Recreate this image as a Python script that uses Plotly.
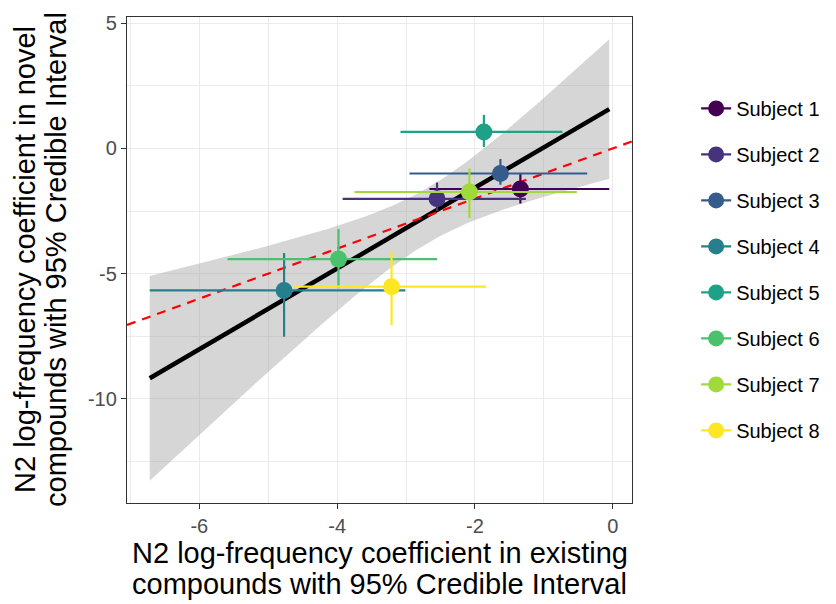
import numpy as np
import plotly.graph_objects as go

subjects = ["Subject 1", "Subject 2", "Subject 3", "Subject 4",
            "Subject 5", "Subject 6", "Subject 7", "Subject 8"]
colors = ["#440154", "#46337E", "#365C8D", "#277F8E",
          "#1FA187", "#4AC16D", "#9FDA3A", "#FDE725"]

est_existing = [-1.34, -2.55, -1.63, -4.77, -1.87, -3.98, -2.08, -3.21]
lo_existing = [-2.66, -3.92, -2.95, -6.72, -3.08, -5.59, -3.75, -4.64]
hi_existing = [-0.05, -1.26, -0.37, -3.01, -0.73, -2.55, -0.52, -1.84]

est_novel = [-1.62, -2.01, -1.00, -5.67, 0.66, -4.42, -1.74, -5.52]
lo_novel = [-2.20, -2.50, -1.45, -7.52, 0.06, -5.58, -2.78, -7.06]
hi_novel = [-1.00, -1.36, -0.42, -4.18, 1.34, -3.22, -0.80, -4.12]

x_ticks = [-6, -4, -2, 0]
x_ticklabels = ["-6", "-4", "-2", "0"]
y_ticks = [5, 0, -5, -10]
y_ticklabels = ["5", "0", "-5", "-10"]

x_title_lines = ["N2 log-frequency coefficient in existing",
                 "compounds with 95% Credible Interval"]
y_title_lines = ["N2 log-frequency coefficient in novel",
                 "compounds with 95% Credible Interval"]

# linear fit with 95% confidence band (as geom_smooth(method="lm"))
xs = np.array(est_existing)
ys = np.array(est_novel)
n = len(xs)
slope, intercept = np.polyfit(xs, ys, 1)
resid = ys - (intercept + slope * xs)
sigma = np.sqrt(np.sum(resid ** 2) / (n - 2))
sxx = np.sum((xs - xs.mean()) ** 2)
t_crit = 2.446912  # t(0.975, df=6)
xg = np.linspace(min(lo_existing), max(hi_existing), 100)
yg = intercept + slope * xg
se = sigma * np.sqrt(1.0 / n + (xg - xs.mean()) ** 2 / sxx)
upper = yg + t_crit * se
lower = yg - t_crit * se

x_range = [-7.05, 0.28]
y_range = [-14.16, 5.25]

FONT = "Liberation Sans, Arial"

fig = go.Figure()

fig.add_trace(go.Scatter(
    x=np.concatenate([xg, xg[::-1]]), y=np.concatenate([upper, lower[::-1]]),
    fill="toself", fillcolor="rgba(153,153,153,0.4)", line=dict(width=0),
    mode="lines", showlegend=False, hoverinfo="skip"))
fig.add_trace(go.Scatter(
    x=xg, y=yg, mode="lines", line=dict(color="black", width=4.5),
    showlegend=False, hoverinfo="skip"))
fig.add_trace(go.Scatter(
    x=x_range, y=x_range, mode="lines",
    line=dict(color="red", width=2.2, dash="9px,7px"),
    showlegend=False, hoverinfo="skip"))

for i, name in enumerate(subjects):
    fig.add_trace(go.Scatter(
        x=[est_existing[i]], y=[est_novel[i]], name=name,
        mode="lines+markers", legendgroup=name,
        marker=dict(color=colors[i], size=17),
        line=dict(color=colors[i], width=2.2),
        error_x=dict(type="data", symmetric=False,
                     array=[hi_existing[i] - est_existing[i]],
                     arrayminus=[est_existing[i] - lo_existing[i]],
                     color=colors[i], thickness=2.2, width=0),
        error_y=dict(type="data", symmetric=False,
                     array=[hi_novel[i] - est_novel[i]],
                     arrayminus=[est_novel[i] - lo_novel[i]],
                     color=colors[i], thickness=2.2, width=0),
    ))

axis_common = dict(
    showgrid=True, gridcolor="#EBEBEB", gridwidth=1.3,
    minor=dict(showgrid=True, gridcolor="#EBEBEB", gridwidth=0.7),
    showline=True, linecolor="#333333", linewidth=1.3, mirror=True,
    ticks="outside", ticklen=5, tickwidth=1.3, tickcolor="#333333",
    tickfont=dict(family=FONT, size=20, color="#4D4D4D"),
    zeroline=False,
)

fig.update_xaxes(range=x_range, tickvals=x_ticks, ticktext=x_ticklabels,
                 minor_tickvals=[-7, -5, -3, -1], **axis_common)
fig.update_yaxes(range=y_range, tickvals=y_ticks, ticktext=y_ticklabels,
                 minor_tickvals=[2.5, -2.5, -7.5, -12.5], **axis_common)

title_font = dict(family=FONT, size=29, color="black")
for txt, shift in zip(x_title_lines, [-50, -81]):
    fig.add_annotation(text=txt, xref="paper", yref="paper", x=0.5, y=0,
                       xanchor="center", yanchor="middle", yshift=shift,
                       showarrow=False, font=title_font)
for txt, shift in zip(y_title_lines, [-102, -71]):
    fig.add_annotation(text=txt, xref="paper", yref="paper", x=0, y=0.5,
                       xanchor="center", yanchor="middle", xshift=shift,
                       textangle=-90, showarrow=False, font=title_font)

fig.update_layout(
    width=828, height=596,
    margin=dict(l=119, r=204, t=9, b=101, autoexpand=False),
    plot_bgcolor="white", paper_bgcolor="white",
    font=dict(family=FONT, color="black"),
    legend=dict(
        x=1.127, xanchor="left", y=0.852, yanchor="top",
        font=dict(size=20, color="black"),
        tracegroupgap=17, itemwidth=30,
        bgcolor="rgba(0,0,0,0)",
    ),
)

fig.write_html("out.html")
